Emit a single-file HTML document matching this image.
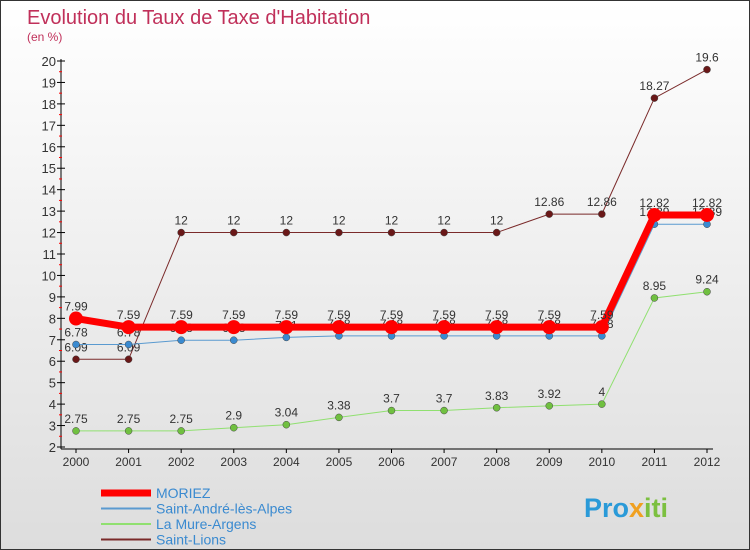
<!DOCTYPE html>
<html><head><meta charset="utf-8"><style>
body{margin:0;}
#wrap{width:750px;height:550px;position:relative;box-sizing:border-box;border:1px solid #333;background:linear-gradient(#fff,#ddd);overflow:hidden;font-family:"Liberation Sans","DejaVu Sans",sans-serif;}
</style></head><body>
<div id="wrap">
<svg id="svg" width="750" height="550" style="position:absolute;left:0;top:0;font-family:'Liberation Sans',sans-serif">
<text x="26" y="23" font-size="20" fill="#c0305a">Evolution du Taux de Taxe d'Habitation</text>
<text x="26" y="40" font-size="12" fill="#c0305a">(en %)</text>
<g id="axes"></g><g id="series"></g><g id="legend"></g>
<text x="583" y="516" font-size="27" font-weight="bold" fill="#2a9ad8">Pro<tspan fill="#f0a020">x</tspan><tspan fill="#7cc040">iti</tspan></text>
</svg>
</div>
<script>
const years=[2000,2001,2002,2003,2004,2005,2006,2007,2008,2009,2010,2011,2012];
const moriez=[7.99,7.59,7.59,7.59,7.59,7.59,7.59,7.59,7.59,7.59,7.59,12.82,12.82];
const standre=[6.78,6.78,6.98,6.98,7.11,7.18,7.18,7.18,7.18,7.18,7.18,12.39,12.39];
const lamure=[2.75,2.75,2.75,2.9,3.04,3.38,3.7,3.7,3.83,3.92,4,8.95,9.24];
const stlions=[6.09,6.09,12,12,12,12,12,12,12,12.86,12.86,18.27,19.6];
const yTicks=[2,3,4,5,6,7,8,9,10,11,12,13,14,15,16,17,18,19,20];
const names=["MORIEZ","Saint-André-lès-Alpes","La Mure-Argens","Saint-Lions"];
const NS="http://www.w3.org/2000/svg";
const X=i=>75+i*(706-75)/12;
const Y=v=>446-(v-2)*(446-60)/18;
function mk(t,a,p,txt){const e=document.createElementNS(NS,t);for(const k in a)e.setAttribute(k,a[k]);if(txt!==undefined)e.textContent=txt;p.appendChild(e);return e;}
const ax=document.getElementById('axes');
let e=mk('line',{x1:60,y1:58,x2:60,y2:448,stroke:'#000'},ax);

e=mk('line',{x1:60,y1:448,x2:712,y2:448,stroke:'#000'},ax);

yTicks.forEach(v=>{mk('line',{x1:56,y1:Y(v),x2:64,y2:Y(v),stroke:'#000'},ax);
 if(v<20)mk('line',{x1:58,y1:Y(v+0.5),x2:61,y2:Y(v+0.5),stroke:'#f00'},ax);
 e=mk('text',{x:55,y:Y(v)+5,'font-size':13,'text-anchor':'end',fill:'#333'},ax,v);
 });
years.forEach((y,i)=>{mk('line',{x1:X(i),y1:448,x2:X(i),y2:452,stroke:'#000'},ax);
 e=mk('text',{x:X(i),y:465,'font-size':12,'text-anchor':'middle',fill:'#333'},ax,y);
 });
const sg=document.getElementById('series');
const defs=[[stlions,'#7a2a2a','#6a1818',1,3.5,'saint-lions'],[lamure,'#90e070','#70c040',1,3.5,'la-mure-argens'],[standre,'#5a9ad0','#3a8ad0',1,3.5,'saint-andre'],[moriez,'#f00','#f00',7,7,'moriez']];
defs.forEach(([d,c,fc,w,r,n])=>{const g=mk('g',{},sg);
 
 mk('polyline',{points:d.map((v,i)=>X(i)+','+Y(v)).join(' '),fill:'none',stroke:c,'stroke-width':w},g);
 d.forEach((v,i)=>{const p=mk('circle',{cx:X(i),cy:Y(v),r:r,fill:fc,stroke:w>1?'none':'#444','stroke-width':0.5},g);
  
  mk('text',{x:X(i),y:Y(v)-8,'font-size':12,'text-anchor':'middle',fill:'#333'},g,v);});});
const lg=document.getElementById('legend');
defs.slice().reverse().forEach(([d,c,fc,w,r,n],k)=>{const y=492+k*15.5;
 const g=mk('g',{},lg);
 mk('line',{x1:100,y1:y,x2:150,y2:y,stroke:c,'stroke-width':w>1?7:2},g);
 mk('text',{x:155,y:y+5,'font-size':14,fill:'#3a8ad0'},g,names[k]);});
</script>
</body></html>
